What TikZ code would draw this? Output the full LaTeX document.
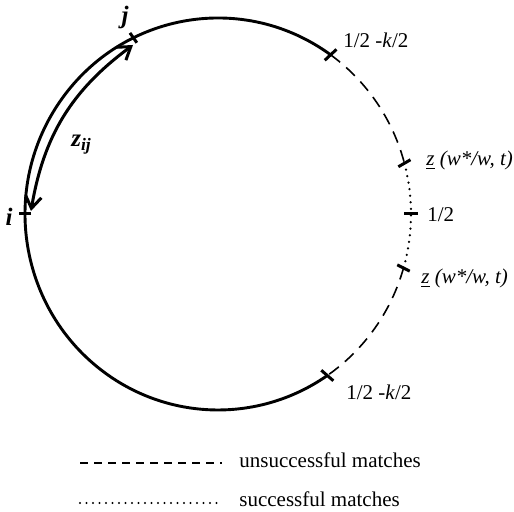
\documentclass[tikz,border=0pt]{standalone}
\usepackage{fontspec}
\setmainfont{Liberation Serif}
\usetikzlibrary{arrows.meta,calc}
\begin{document}
\begin{tikzpicture}[x=0.5pt,y=0.5pt,
  solidarc/.style={line width=1.45pt},
  dasharc/.style={line width=0.8pt, dash pattern=on 6pt off 4pt},
  dotarc/.style={line width=1.25pt, line cap=round, dash pattern=on 0pt off 3.3pt},
  tickmark/.style={line width=1.5pt},
  lab/.style={font=\fontsize{10.5}{12}\selectfont, anchor=base west, inner sep=0pt},
  bilab/.style={font=\fontsize{12.5}{14}\selectfont\bfseries\itshape, anchor=base, inner sep=0pt},
  legdash/.style={line width=0.75pt, dash pattern=on 4pt off 3pt},
  legdot/.style={line width=1.1pt, line cap=round, dash pattern=on 0pt off 3.25pt},
  dblarrow/.style={line width=1.5pt, {Straight Barb[length=6pt,width=8pt]}-{Straight Barb[length=6pt,width=8pt]}}
]
\useasboundingbox (0,0) rectangle (514,512);
\coordinate (C) at (218,298);
% points on the circle
\coordinate (Pk1) at ($(C)+(54.3:193 and 196)$);
\coordinate (Pz1) at ($(C)+(15:193 and 196)$);
\coordinate (Ph)  at ($(C)+(0:193 and 196)$);
\coordinate (Pz2) at ($(C)+(-16:193 and 196)$);
\coordinate (Pk2) at ($(C)+(-55.5:193 and 196)$);
\coordinate (Pj)  at ($(C)+(116:193 and 196)$);
\coordinate (Pi)  at ($(C)+(180:193 and 196)$);
% arcs
\draw[solidarc] (Pk1) arc[start angle=54.3, end angle=304.5, x radius=193, y radius=196];
\draw[dasharc] (Pk1) arc[start angle=54.3, end angle=15, x radius=193, y radius=196];
\draw[dotarc] (Pz1) arc[start angle=15, end angle=-16, x radius=193, y radius=196];
\draw[dasharc] (Pz2) arc[start angle=-16, end angle=-55.5, x radius=193, y radius=196];
% ticks
\draw[tickmark] ([shift={(43:8)}]Pk1) -- ([shift={(223:8)}]Pk1);
\draw[tickmark] ([shift={(30:7)}]Pz1) -- ([shift={(210:7)}]Pz1);
\draw[tickmark] ([shift={(0:7)}]Ph) -- ([shift={(180:7)}]Ph);
\draw[tickmark] ([shift={(-27:7)}]Pz2) -- ([shift={(153:7)}]Pz2);
\draw[tickmark] ([shift={(-41:8)}]Pk2) -- ([shift={(139:8)}]Pk2);
\draw[tickmark] ([shift={(125:6)}]Pj) -- ([shift={(-55:6)}]Pj);
\draw[tickmark] ([shift={(0:6)}]Pi) -- ([shift={(180:6)}]Pi);
% double arrow z_ij
\coordinate (Ai) at (31,301);
\coordinate (Aj) at (133,467);
\draw[dblarrow] (Ai) to[bend left=22] (Aj);
% labels
\node[bilab] (li) at (9,286) {i};
\node[bilab] (lj) at (125,488) {j};
\node[bilab, anchor=base west] (lz) at (71,365) {z\textsubscript{ij}};
\node[lab] (k1) at (343,464) {1/2 -\textit{k}/2};
\node[lab] (z1) at (426,346) {\textit{\underline{z} (w*/w, t)}};
\node[lab] (h)  at (427,290) {1/2};
\node[lab] (z2) at (421,228) {\textit{\underline{z} (w*/w, t)}};
\node[lab] (k2) at (346,112) {1/2 -\textit{k}/2};
% legend
\coordinate (d1) at (80,49);
\coordinate (d2) at (222,49);
\coordinate (o1) at (80,9);
\coordinate (o2) at (220,9);
\draw[legdash] (d1) -- (d2);
\draw[legdot] (o1) -- (o2);
\node[lab] (t1) at (239,44) {unsuccessful matches};
\node[lab] (t2) at (239,5) {successful matches};
\end{tikzpicture}
\end{document}
